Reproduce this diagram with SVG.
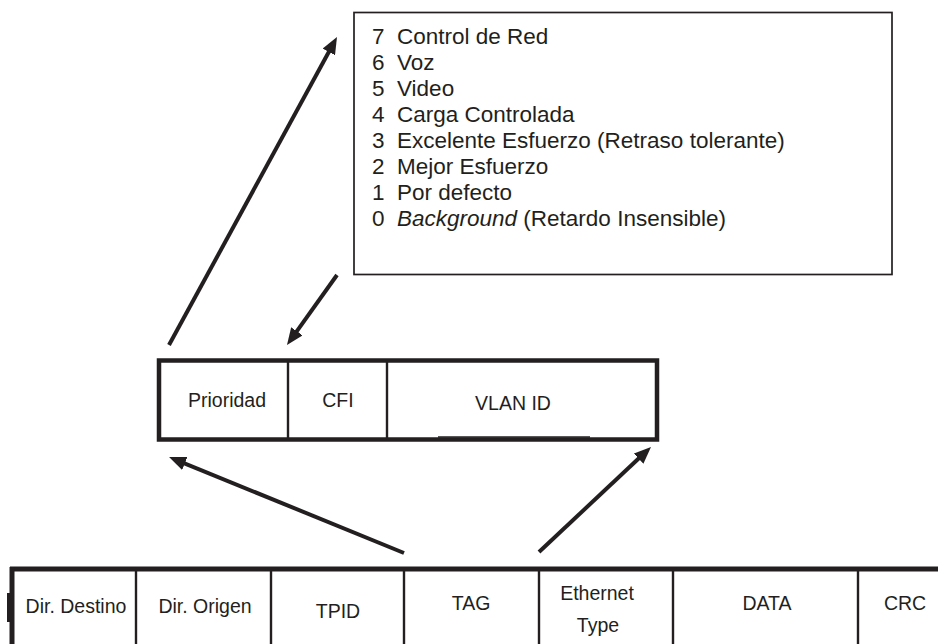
<svg xmlns="http://www.w3.org/2000/svg" width="938" height="644" viewBox="0 0 938 644">
<style>
text{font-family:"Liberation Sans",Arial,sans-serif;fill:#231f20}
.lst{font-size:22.5px}
.lbl{font-size:19.5px;text-anchor:middle}
.thin{fill:none;stroke:#231f20;stroke-width:1.7}
.thick{fill:none;stroke:#231f20;stroke-width:4.5}
.div{stroke:#231f20;stroke-width:2.4}
.arr{stroke:#231f20;stroke-width:4;fill:none;marker-end:url(#ah)}
</style>
<defs>
<marker id="ah" markerUnits="userSpaceOnUse" viewBox="0 0 17 14" markerWidth="17" markerHeight="14" refX="7" refY="7" orient="auto">
<path d="M0,0 L17,7 L0,14 z" fill="#231f20"/>
</marker>
</defs>
<rect width="938" height="644" fill="#fff"/>

<g id="prioridades">
<rect class="thin" x="354" y="12.5" width="538" height="262"/>
<text class="lst" x="372" y="44">7</text><text class="lst" x="397" y="44">Control de Red</text>
<text class="lst" x="372" y="70">6</text><text class="lst" x="397" y="70">Voz</text>
<text class="lst" x="372" y="96">5</text><text class="lst" x="397" y="96">Video</text>
<text class="lst" x="372" y="122">4</text><text class="lst" x="397" y="122">Carga Controlada</text>
<text class="lst" x="372" y="148">3</text><text class="lst" x="397" y="148">Excelente Esfuerzo (Retraso tolerante)</text>
<text class="lst" x="372" y="174">2</text><text class="lst" x="397" y="174">Mejor Esfuerzo</text>
<text class="lst" x="372" y="200">1</text><text class="lst" x="397" y="200">Por defecto</text>
<text class="lst" x="372" y="226">0</text><text class="lst" x="397" y="226"><tspan font-style="italic">Background</tspan> (Retardo Insensible)</text>
</g>

<g id="tag">
<rect class="thick" x="159" y="360.5" width="498" height="79"/>
<line class="div" x1="288" y1="362" x2="288" y2="438"/>
<line class="div" x1="387" y1="362" x2="387" y2="438"/>
<line stroke="#231f20" stroke-width="1.6" x1="438" y1="437" x2="590" y2="437"/>
<text class="lbl" x="227" y="407">Prioridad</text>
<text class="lbl" x="338" y="407">CFI</text>
<text class="lbl" x="513" y="410">VLAN ID</text>
</g>

<g id="trama">
<line stroke="#231f20" stroke-width="5" x1="10" y1="569" x2="938" y2="569"/>
<line stroke="#231f20" stroke-width="5" x1="12" y1="567" x2="12" y2="644"/>
<line stroke="#231f20" stroke-width="3" x1="8.5" y1="593" x2="8.5" y2="622"/>
<line class="div" x1="136" y1="569" x2="136" y2="644"/>
<line class="div" x1="271" y1="569" x2="271" y2="644"/>
<line class="div" x1="404" y1="569" x2="404" y2="644"/>
<line class="div" x1="539" y1="569" x2="539" y2="644"/>
<line class="div" x1="673" y1="569" x2="673" y2="644"/>
<line class="div" x1="858" y1="569" x2="858" y2="644"/>
<text class="lbl" x="76" y="613">Dir. Destino</text>
<text class="lbl" x="205" y="613">Dir. Origen</text>
<text class="lbl" x="338" y="618">TPID</text>
<text class="lbl" x="471" y="610">TAG</text>
<text class="lbl" x="597" y="600">Ethernet</text>
<text class="lbl" x="598" y="632">Type</text>
<text class="lbl" x="767" y="610">DATA</text>
<text class="lbl" x="905" y="610">CRC</text>
</g>

<g id="conectores">
<line class="arr" x1="169" y1="345" x2="332.2" y2="45.8"/>
<line class="arr" x1="337" y1="275" x2="292.8" y2="336.9"/>
<line class="arr" x1="404" y1="553" x2="178.3" y2="460.8"/>
<line class="arr" x1="539" y1="552" x2="643.7" y2="453.8"/>
</g>
</svg>
